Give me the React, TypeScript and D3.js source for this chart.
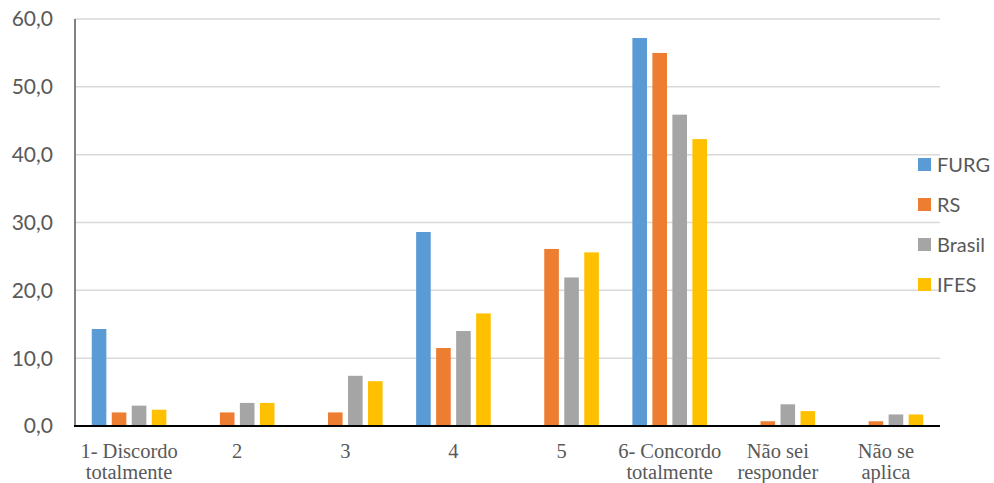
import React from "react";
import * as d3 from "d3";

const categories = [
  ["1- Discordo", "totalmente"],
  ["2"],
  ["3"],
  ["4"],
  ["5"],
  ["6- Concordo", "totalmente"],
  ["Não sei", "responder"],
  ["Não se", "aplica"],
];
const seriesNames = ["FURG", "RS", "Brasil", "IFES"];
const furg = [14.3, 0, 0, 28.6, 0, 57.2, 0, 0];
const rs = [2.0, 2.0, 2.0, 11.5, 26.1, 55.0, 0.7, 0.7];
const brasil = [3.0, 3.4, 7.4, 14.0, 21.9, 45.9, 3.2, 1.7];
const ifes = [2.4, 3.4, 6.6, 16.6, 25.6, 42.3, 2.2, 1.7];
const yTicks = [0, 10, 20, 30, 40, 50, 60];
const colors = ["#5B9BD5", "#ED7D31", "#A5A5A5", "#FFC000"];

const W = 994;
const H = 483;
const left = 75;
const right = 940;
const top = 19;
const bottom = 426;

export default function App() {
  const series = [furg, rs, brasil, ifes];
  const x = d3
    .scaleBand<number>()
    .domain(d3.range(categories.length))
    .range([left, right])
    .paddingInner(0.31)
    .paddingOuter(0.155);
  const xs = d3
    .scaleBand<number>()
    .domain(d3.range(series.length))
    .range([0, x.bandwidth()])
    .paddingInner(0.27);
  const y = d3.scaleLinear().domain([0, 60]).range([bottom, top]);
  const fmt = (v: number) => v.toFixed(1).replace(".", ",");
  const band = (right - left) / categories.length;

  return (
    <svg
      width={W}
      height={H}
      style={{ position: "absolute", left: 0, top: 0, background: "#fff" }}
    >
      {yTicks.map((t) => (
        <g key={t}>
          {t > 0 && (
            <line
              x1={left}
              x2={right}
              y1={y(t)}
              y2={y(t)}
              stroke="#D9D9D9"
              strokeWidth={1.5}
            />
          )}
          <text
            x={53}
            y={y(t)}
            dy="0.35em"
            textAnchor="end"
            fontFamily="Lato, sans-serif"
            fontSize={21}
            fill="#595959"
          >
            {fmt(t)}
          </text>
        </g>
      ))}
      {series.map((s, si) =>
        s.map((v, ci) =>
          v > 0 ? (
            <rect
              key={`${si}-${ci}`}
              x={(x(ci) as number) + (xs(si) as number)}
              y={y(v)}
              width={xs.bandwidth()}
              height={bottom - y(v)}
              fill={colors[si]}
            />
          ) : null
        )
      )}
      <line x1={left} x2={left} y1={top} y2={bottom} stroke="#595959" strokeWidth={1.5} />
      <line x1={left - 1} x2={right} y1={bottom} y2={bottom} stroke="#000" strokeWidth={2} />
      {categories.map((lines, ci) => (
        <text
          key={ci}
          x={left + band * (ci + 0.5)}
          y={458}
          textAnchor="middle"
          fontFamily="'Liberation Serif', 'Times New Roman', serif"
          fontSize={20.5}
          fill="#595959"
        >
          {lines.map((l, li) => (
            <tspan key={li} x={left + band * (ci + 0.5)} dy={li === 0 ? 0 : 21}>
              {l}
            </tspan>
          ))}
        </text>
      ))}
      {seriesNames.map((n, i) => (
        <g key={n} transform={`translate(918, ${165 + i * 40})`}>
          <rect x={0} y={-7} width={13} height={13} fill={colors[i]} />
          <text
            x={19}
            y={0}
            dy="0.36em"
            fontFamily="Lato, sans-serif"
            fontSize={20}
            fill="#595959"
          >
            {n}
          </text>
        </g>
      ))}
    </svg>
  );
}
